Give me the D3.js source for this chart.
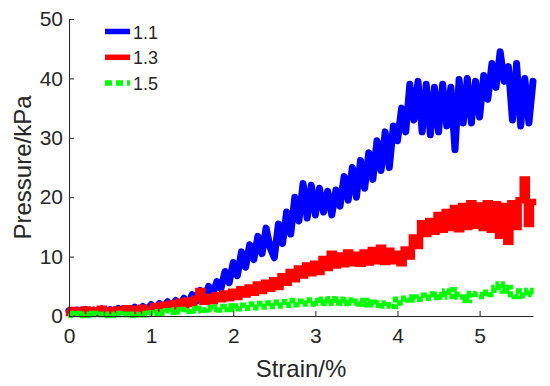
<!DOCTYPE html>
<html lang="en">
<head>
    <meta charset="UTF-8">
    <title>Pressure vs strain</title>
    <script src="https://cdn.jsdelivr.net/npm/d3@7/dist/d3.min.js"></script>
    <style>
        body { margin: 0; background: #fff; }
        text { font-family: "Liberation Sans", Arial, sans-serif; fill: #262626; }
    </style>
</head>
<body>
<script>
    // strain sampled every 0.05 %, 0 .. 5.65
    var strainStep = 0.05
    var seriesNames = ['1.1', '1.3', '1.5']
    var seriesColors = ['#0000ff', '#ff0000', '#00ff00']
    var xTicks = [0, 1, 2, 3, 4, 5]
    var yTicks = [0, 10, 20, 30, 40, 50]

    var p11 = [
        0.9, 0.4, 1.0, 0.5, 1.1, 0.5, 1.0, 0.6, 1.2, 0.6,
        1.1, 0.7, 1.3, 0.8, 1.2, 0.9, 1.5, 0.9, 1.6, 1.1,
        1.9, 1.2, 2.1, 1.4, 2.4, 1.6, 2.6, 1.8, 3.0, 2.0,
        3.6, 2.5, 4.3, 3.0, 5.0, 3.6, 5.8, 4.6, 7.5, 5.6,
        9.0, 6.8, 10.8, 8.2, 12.0, 9.5, 13.4, 10.5, 14.8, 11.5,
        9.8, 15.5, 12.2, 17.5, 13.8, 20.0, 16.0, 22.3, 16.5, 22.0,
        17.0, 21.5, 17.5, 21.0, 17.0, 21.2, 18.5, 23.5, 19.5, 25.0,
        20.0, 26.2, 21.5, 27.5, 23.0, 29.5, 24.5, 31.0, 25.0, 32.0,
        29.5, 35.0, 31.0, 39.0, 33.0, 39.5, 31.0, 39.0, 30.5, 38.5,
        31.0, 39.0, 32.0, 38.5, 28.0, 39.8, 32.5, 40.0, 32.5, 39.5,
        33.5, 40.5, 36.5, 42.5, 38.5, 44.5, 39.5, 42.0, 33.0, 42.5,
        32.0, 40.0, 32.5, 39.5
    ]
    var p13 = [
        0.5, 1.0, 0.4, 0.9, 1.1, 0.5, 1.0, 0.6, 1.2, 0.6,
        1.0, 0.5, 1.1, 0.7, 1.3, 0.7, 1.2, 0.8, 1.4, 0.9,
        1.1, 1.7, 1.2, 1.9, 1.4, 2.1, 1.6, 2.4, 1.8, 2.6,
        2.0, 2.9, 4.2, 2.4, 3.2, 2.5, 3.5, 2.8, 3.8, 3.0,
        4.1, 3.2, 4.5, 3.6, 4.8, 3.9, 5.3, 4.2, 5.6, 4.6,
        6.0, 4.9, 6.7, 5.6, 7.4, 6.2, 8.0, 6.8, 8.5, 7.2,
        8.8, 7.4, 9.6, 8.1, 10.5, 8.5, 10.2, 8.7, 10.7, 8.9,
        10.3, 8.8, 10.7, 9.0, 11.1, 9.2, 11.5, 9.1, 11.0, 9.2,
        10.5, 8.9, 11.2, 10.0, 13.2, 11.8, 15.6, 13.8, 16.0, 14.2,
        17.0, 14.5, 17.5, 14.8, 18.2, 14.6, 18.5, 15.0, 19.0, 15.2,
        18.6, 14.8, 19.0, 14.5, 18.8, 13.5, 18.5, 12.5, 19.0, 15.0,
        19.5, 23.0, 15.5, 19.2
    ]
    var p15 = [
        0.4, 0.1, 0.4, 0.1, 0.3, 0.1, 0.4, 0.2, 0.3, 0.1,
        0.3, 0.1, 0.4, 0.2, 0.3, 0.1, 0.3, 0.2, 0.4, 0.2,
        0.5, 0.3, 0.7, 0.5, 0.9, 0.6, 1.0, 0.7, 1.1, 0.8,
        1.2, 0.9, 1.3, 1.0, 1.4, 1.1, 1.5, 1.0, 1.6, 1.1,
        1.7, 1.2, 1.8, 1.3, 2.0, 1.4, 2.1, 1.5, 2.2, 1.6,
        2.3, 1.7, 2.4, 1.8, 2.6, 1.9, 2.5, 2.0, 2.7, 2.0,
        2.6, 2.2, 2.8, 2.1, 2.9, 2.2, 2.8, 2.1, 2.7, 2.2,
        2.5, 2.0, 2.6, 1.9, 2.3, 1.8, 2.2, 1.7, 1.9, 1.6,
        2.8, 2.2, 3.0, 2.7, 3.2, 2.8, 3.5, 3.0, 3.7, 3.1,
        3.6, 3.2, 4.2, 3.3, 4.4, 3.2, 3.2, 2.6, 3.8, 3.6,
        3.6, 3.3, 4.0, 3.6, 4.8, 5.4, 4.2, 4.8, 3.6, 3.3,
        4.2, 3.4, 4.3, 3.6
    ]
    var seriesValues = [p11, p13, p15]

    var width = 550
        height = 386
        margin = { top: 19, right: 17, bottom: 70, left: 69 }

    var svg = d3.select('body')
        .append('svg')
        .attr('width', width)
        .attr('height', height)

    var xScale = d3.scaleLinear()
        .domain([0, 5.65])
        .range([margin.left, width - margin.right])
    var yScale = d3.scaleLinear()
        .domain([0, 50])
        .range([height - margin.bottom, margin.top])

    var styles = [
        { width: 7, join: 'round', cap: 'round', dash: null, legendDash: null, curve: d3.curveLinear },
        { width: 6.5, join: 'miter', cap: 'square', dash: null, legendDash: null, curve: d3.curveStep },
        { width: 5.5, join: 'miter', cap: 'butt', dash: '6,2', legendDash: '7,4', curve: d3.curveStep }
    ]

    seriesValues.forEach(function (vals, k) {
        var line = d3.line()
            .x((d, i) => xScale(i * strainStep))
            .y(d => yScale(d))
            .curve(styles[k].curve)
        svg.append('path')
            .datum(vals)
            .attr('d', line)
            .attr('fill', 'none')
            .attr('stroke', seriesColors[k])
            .attr('stroke-width', styles[k].width)
            .attr('stroke-linejoin', styles[k].join)
            .attr('stroke-linecap', styles[k].cap)
            .attr('stroke-dasharray', styles[k].dash)
    })

    // axes, ticks pointing inward
    var fmt = d3.format('d')
    var xAxis = svg.append('g')
        .attr('transform', 'translate(0,' + (height - margin.bottom) + ')')
        .call(d3.axisBottom(xScale).tickValues(xTicks).tickFormat(fmt)
            .tickSizeInner(-5).tickSizeOuter(0).tickPadding(12))
    var yAxis = svg.append('g')
        .attr('transform', 'translate(' + margin.left + ',0)')
        .call(d3.axisLeft(yScale).tickValues(yTicks).tickFormat(fmt)
            .tickSizeInner(-5).tickSizeOuter(0).tickPadding(6))

    svg.selectAll('.domain, .tick line').attr('stroke', '#262626')
    svg.selectAll('.tick text')
        .style('font-size', '21px')
        .style('font-family', '"Liberation Sans", Arial, sans-serif')
        .attr('fill', '#262626')
    xAxis.selectAll('.tick text').attr('dy', '0.71em')

    svg.append('text')
        .attr('x', (xScale.range()[0] + xScale.range()[1]) / 2)
        .attr('y', 377)
        .attr('text-anchor', 'middle')
        .style('font-size', '24px')
        .text('Strain/%')

    svg.append('text')
        .attr('transform', 'translate(31,' + ((yScale.range()[0] + yScale.range()[1]) / 2) + ') rotate(-90)')
        .attr('text-anchor', 'middle')
        .style('font-size', '24px')
        .text('Pressure/kPa')

    // legend
    var legend = svg.append('g')
    seriesNames.forEach(function (name, k) {
        var ly = 31.5 + k * 25.8
        legend.append('line')
            .attr('x1', 105).attr('x2', 130)
            .attr('y1', ly).attr('y2', ly)
            .attr('stroke', seriesColors[k])
            .attr('stroke-width', 5.5)
            .attr('stroke-dasharray', styles[k].legendDash)
        legend.append('text')
            .attr('x', 133)
            .attr('y', ly + 7)
            .style('font-size', '18px')
            .text(name)
    })
</script>
</body>
</html>
